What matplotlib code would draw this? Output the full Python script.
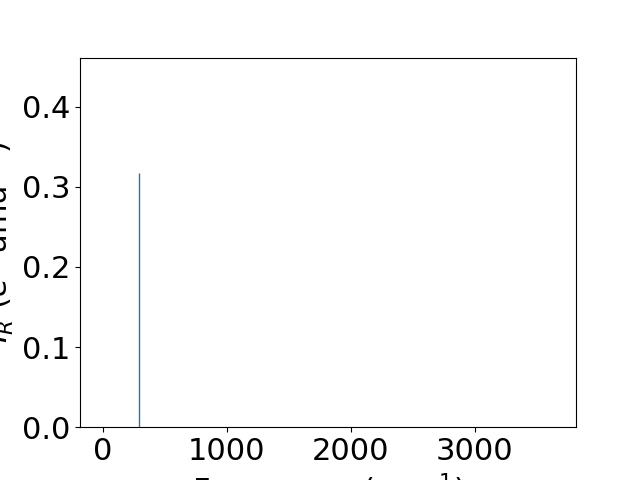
import matplotlib
matplotlib.use("Agg")
import matplotlib.pyplot as plt

# IR modes
freqs = [290.0]         # cm^-1
intensities = [0.3175]  # e^2 amu^-1

# frequency span of the spectrum (sets the x range)
x_range = [0.0, 3636.0]

plt.rcParams['font.size'] = 22

fig, ax = plt.subplots(figsize=(6.4, 4.8), dpi=100)
ax.vlines(freqs, 0, intensities, color="tab:blue", linewidth=1.0)
ax.plot(x_range, [0, 0], alpha=0)
ax.set_ylim(0, max(intensities) * 1.452)
ax.set_xlabel("Frequency (cm$^{-1}$)")
ax.set_ylabel("$I_R$ ($e^2$ amu$^{-1}$)")

fig.savefig("out.png")
